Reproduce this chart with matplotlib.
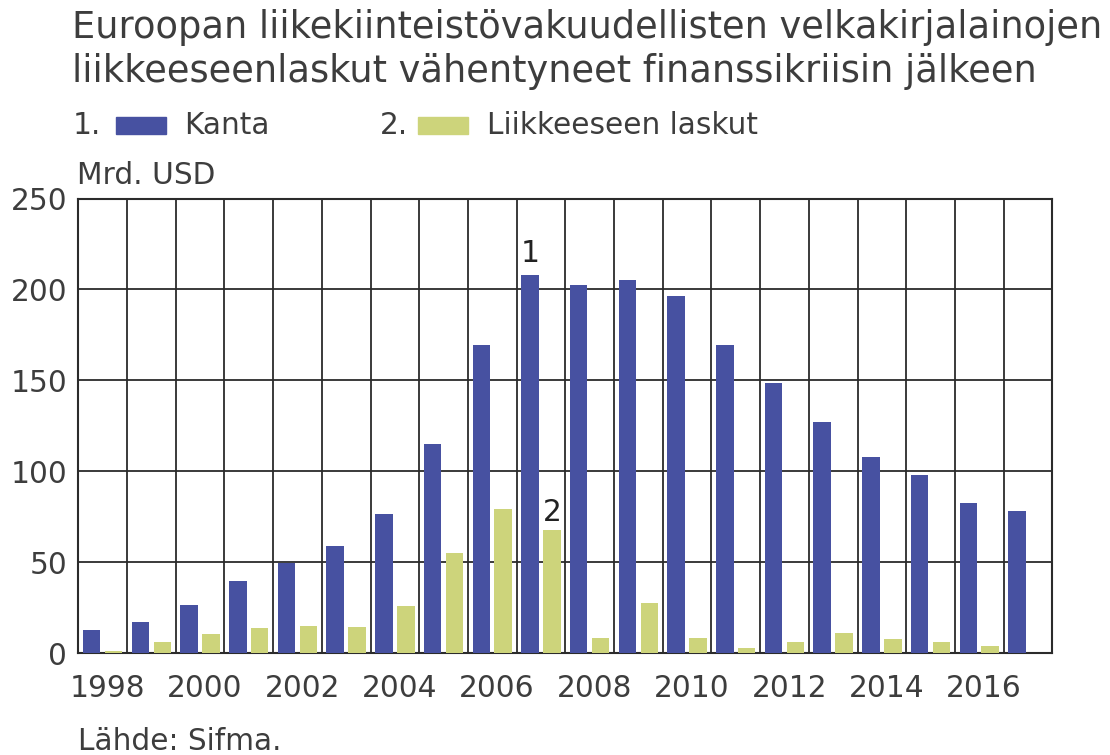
import matplotlib
matplotlib.use("Agg")
import matplotlib.pyplot as plt
import numpy as np
from matplotlib.patches import Rectangle

years = list(range(1998, 2018))
kanta = [12.8, 17.4, 26.7, 39.6, 49.7, 59.1, 76.7, 114.8, 169.4, 208.0,
         202.4, 205.1, 196.5, 169.6, 148.4, 126.9, 107.9, 98.0, 82.8, 78.2]
liikkeeseen = [1.0, 6.0, 10.6, 13.7, 15.2, 14.3, 26.0, 55.3, 79.1, 67.8,
               8.2, 27.5, 8.6, 3.0, 6.3, 11.4, 7.9, 6.3, 4.1, np.nan]
tick_years = list(range(1998, 2017, 2))
yticks = [0, 50, 100, 150, 200, 250]

title = "Euroopan liikekiinteistövakuudellisten velkakirjalainojen\nliikkeeseenlaskut vähentyneet finanssikriisin jälkeen"
legend_labels = ["Kanta", "Liikkeeseen laskut"]
unit = "Mrd. USD"
source = "Lähde: Sifma."

blue = "#4751A1"
green = "#CDD47B"
text_col = "#3d3d3d"
grid_col = "#2b2b2b"
fs = 21.3

plt.rcParams['font.family'] = ['DejaVu Sans']

fig = plt.figure(figsize=(11.1, 7.55), dpi=100)
ax = fig.add_axes([78.3/1110, 1-653.3/755, (1052.3-78.3)/1110, (653.3-198.5)/755])

x = np.arange(len(years))
w = 0.36
ax.bar(x + 0.275, kanta, width=w, color=blue, zorder=3)
ax.bar(x + 0.725, liikkeeseen, width=w, color=green, zorder=3)

ax.set_xlim(0, len(years))
ax.set_ylim(0, 250)
ax.set_yticks(yticks)
ax.set_yticklabels([str(v) for v in yticks])
ax.set_xticks(np.arange(len(years) + 1), minor=True)
major_pos = [years.index(y) + 0.6 for y in tick_years]
ax.set_xticks(major_pos)
ax.set_xticklabels([str(y) for y in tick_years])
ax.grid(True, which='minor', axis='x', color=grid_col, lw=1.3, zorder=1)
ax.grid(True, which='major', axis='y', color=grid_col, lw=1.3, zorder=1)
ax.grid(False, which='major', axis='x')
ax.tick_params(axis='both', which='both', length=0, labelsize=fs, colors=text_col)
ax.tick_params(axis='y', pad=8)
ax.tick_params(axis='x', pad=15)
for s in ax.spines.values():
    s.set_color(grid_col)
    s.set_linewidth(1.5)

i07 = years.index(2007)
ax.text(i07 + 0.275, kanta[i07] + 4, "1", ha='center', va='bottom', fontsize=fs, color='#222222', zorder=4)
ax.text(i07 + 0.725, liikkeeseen[i07] + 1.5, "2", ha='center', va='bottom', fontsize=fs, color='#222222', zorder=4)

fig.text(72/1110, 1-9/755, title, ha='left', va='top', fontsize=26.5, color=text_col, linespacing=1.25)

# legend
ly = 1 - 125/755
fig.text(73/1110, ly, "1.", ha='left', va='center', fontsize=fs, color=text_col)
fig.patches.append(Rectangle((116/1110, 1-134/755), 50/1110, 17/755, transform=fig.transFigure, color=blue, figure=fig))
fig.text(184/1110, ly, legend_labels[0], ha='left', va='center', fontsize=fs, color=text_col)
fig.text(380/1110, ly, "2.", ha='left', va='center', fontsize=fs, color=text_col)
fig.patches.append(Rectangle((418/1110, 1-134/755), 50/1110, 17/755, transform=fig.transFigure, color=green, figure=fig))
fig.text(487/1110, ly, legend_labels[1], ha='left', va='center', fontsize=fs, color=text_col)

fig.text(77/1110, 1-176/755, unit, ha='left', va='center', fontsize=fs, color=text_col)
fig.text(78/1110, 1-741/755, source, ha='left', va='center', fontsize=fs, color=text_col)

fig.savefig("out.png", dpi=100)
